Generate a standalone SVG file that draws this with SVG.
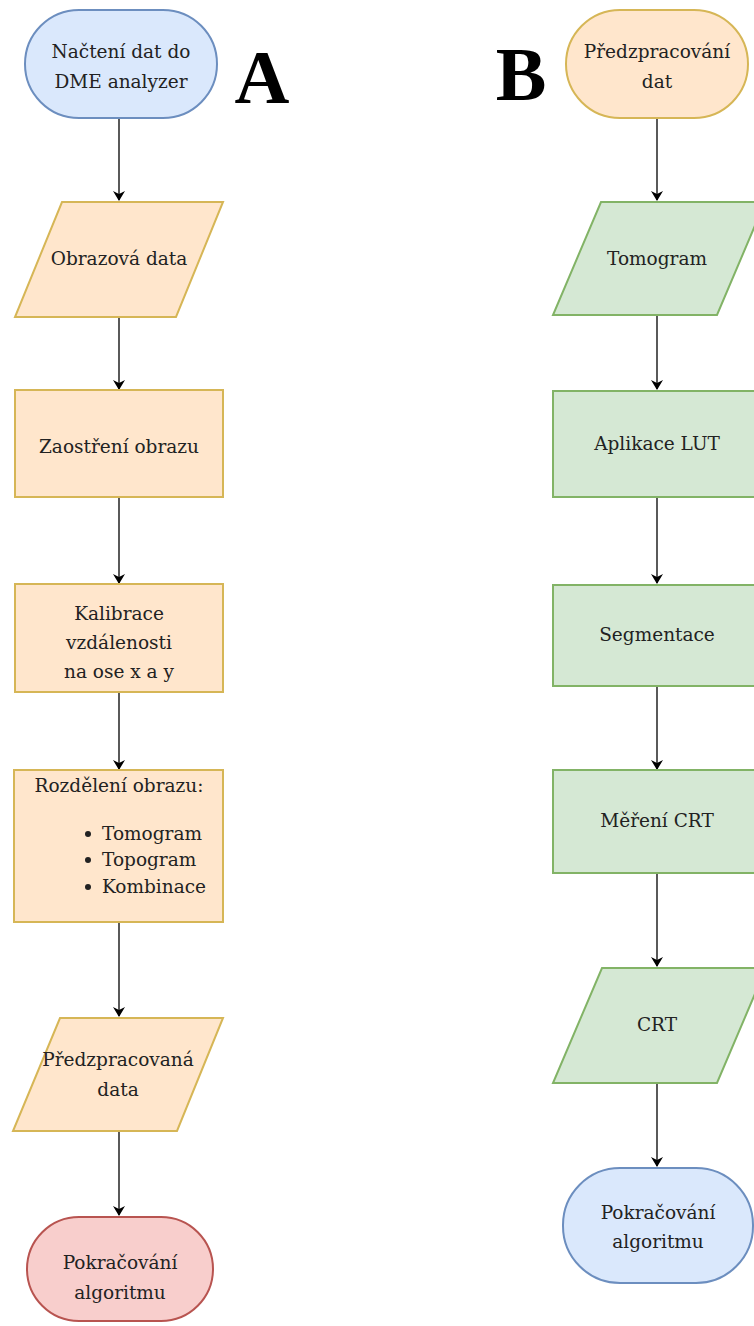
<svg xmlns="http://www.w3.org/2000/svg" width="754" height="1326" viewBox="0 0 754 1326">
<defs>
<style>
.t{font-family:"DejaVu Serif","Liberation Serif",serif;font-size:18.5px;fill:#222;text-anchor:middle}
.big{font-family:"Liberation Serif",serif;font-weight:bold;font-size:76px;fill:#000;text-anchor:middle}
.blue{fill:#dae8fc;stroke:#6c8ebf;stroke-width:2}
.org{fill:#ffe6cc;stroke:#d6b656;stroke-width:2}
.grn{fill:#d5e8d4;stroke:#82b366;stroke-width:2}
.red{fill:#f8cecc;stroke:#b85450;stroke-width:2}
.c{stroke:#000;stroke-width:1.3;fill:none;marker-end:url(#ah)}
</style>
<marker id="ah" markerWidth="10" markerHeight="12" refX="9" refY="6" orient="auto" markerUnits="userSpaceOnUse">
<path d="M0,0 L10,6 L0,12 L3,6 Z" fill="#000"/>
</marker>
</defs>
<rect width="754" height="1326" fill="#fff"/>
<g id="connectors">
<path class="c" d="M119,118 V200"/>
<path class="c" d="M119,318 V389"/>
<path class="c" d="M119,497 V583"/>
<path class="c" d="M119,692 V769"/>
<path class="c" d="M119,922 V1016"/>
<path class="c" d="M119,1131 V1215"/>
<path class="c" d="M657,118 V200"/>
<path class="c" d="M657,316 V389"/>
<path class="c" d="M657,497 V583"/>
<path class="c" d="M657,686 V769"/>
<path class="c" d="M657,873 V966"/>
<path class="c" d="M657,1083 V1166"/>
</g>
<g id="labelA"><text class="big" x="262" y="103">A</text></g>
<g id="labelB"><text class="big" x="521" y="100">B</text></g>
<g id="a1"><rect class="blue" x="25" y="10" width="192" height="108" rx="54" ry="54"/>
<text class="t" x="121" y="58">Načtení dat do</text><text class="t" x="121" y="88">DME analyzer</text></g>
<g id="a2"><polygon class="org" points="62,202 223,202 176,317 15,317"/>
<text class="t" x="119" y="265">Obrazová data</text></g>
<g id="a3"><rect class="org" x="15" y="390" width="208" height="107"/>
<text class="t" x="119" y="453">Zaostření obrazu</text></g>
<g id="a4"><rect class="org" x="15" y="584" width="208" height="108"/>
<text class="t" x="119" y="620">Kalibrace</text><text class="t" x="119" y="649">vzdálenosti</text><text class="t" x="119" y="678">na ose x a y</text></g>
<g id="a5"><rect class="org" x="14" y="770" width="209" height="152"/>
<text class="t" x="119" y="792">Rozdělení obrazu:</text>
<circle cx="88" cy="834" r="3" fill="#222"/><text class="t" x="102" y="840" style="text-anchor:start">Tomogram</text>
<circle cx="88" cy="860" r="3" fill="#222"/><text class="t" x="102" y="866" style="text-anchor:start">Topogram</text>
<circle cx="88" cy="887" r="3" fill="#222"/><text class="t" x="102" y="893" style="text-anchor:start">Kombinace</text>
</g>
<g id="a6"><polygon class="org" points="60,1018 223,1018 177,1131 13,1131"/>
<text class="t" x="118" y="1066">Předzpracovaná</text><text class="t" x="118" y="1096">data</text></g>
<g id="a7"><rect class="red" x="27" y="1217" width="186" height="104" rx="52" ry="52"/>
<text class="t" x="120" y="1269">Pokračování</text><text class="t" x="120" y="1299">algoritmu</text></g>
<g id="b1"><rect class="org" x="566" y="10" width="182" height="108" rx="54" ry="54"/>
<text class="t" x="657" y="58">Předzpracování</text><text class="t" x="657" y="88">dat</text></g>
<g id="b2"><polygon class="grn" points="601,202 765,202 717,315 553,315"/>
<text class="t" x="657" y="265">Tomogram</text></g>
<g id="b3"><rect class="grn" x="553" y="391" width="208" height="106"/>
<text class="t" x="657" y="450">Aplikace LUT</text></g>
<g id="b4"><rect class="grn" x="553" y="585" width="208" height="101"/>
<text class="t" x="657" y="641">Segmentace</text></g>
<g id="b5"><rect class="grn" x="553" y="770" width="208" height="103"/>
<text class="t" x="657" y="827">Měření CRT</text></g>
<g id="b6"><polygon class="grn" points="602,968 766,968 717,1083 553,1083"/>
<text class="t" x="657" y="1031">CRT</text></g>
<g id="b7"><rect class="blue" x="563" y="1168" width="190" height="115" rx="57" ry="57"/>
<text class="t" x="658" y="1219">Pokračování</text><text class="t" x="658" y="1248">algoritmu</text></g>
</svg>
